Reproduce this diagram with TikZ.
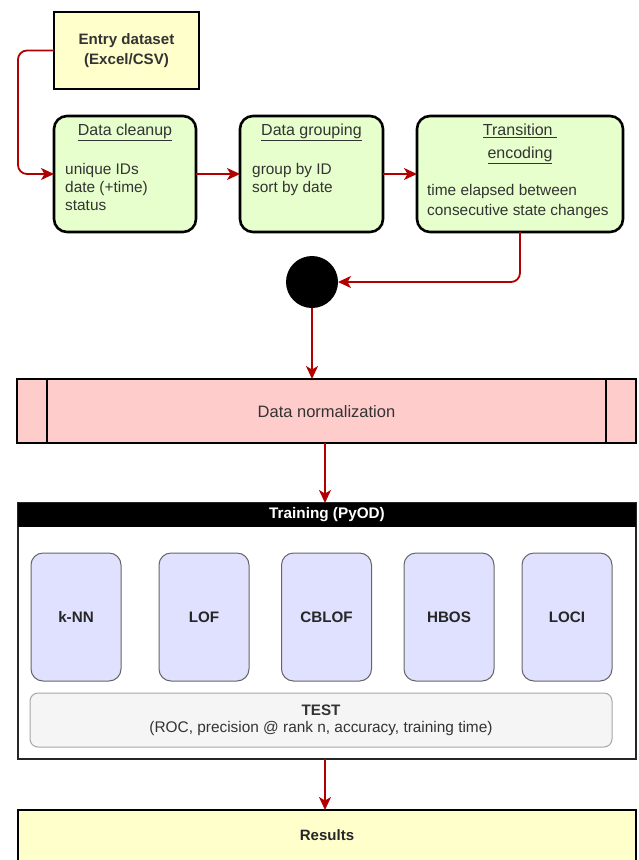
\documentclass[tikz,border=0pt]{standalone}
\usepackage{fontspec}
\setmainfont{Liberation Sans}
\usetikzlibrary{arrows.meta,positioning,calc}

\definecolor{entryfill}{HTML}{FFFFCC}
\definecolor{stepfill}{HTML}{E6FFCC}
\definecolor{normfill}{HTML}{FFCCCC}
\definecolor{algofill}{HTML}{E0E0FF}
\definecolor{testfill}{HTML}{F5F5F5}
\definecolor{linkred}{HTML}{B20000}
\definecolor{txt}{HTML}{333333}

\tikzset{
  base/.style={inner sep=0pt, outer sep=0pt, anchor=center},
  entrybox/.style={base, draw=black, line width=2.6pt, fill=entryfill, minimum width=145pt, minimum height=77pt},
  stepbox/.style={base, draw=black, line width=2.6pt, fill=stepfill, rounded corners=13pt, minimum height=116pt},
  normbox/.style={base, draw=black, line width=2pt, fill=normfill, minimum width=619pt, minimum height=64pt},
  trainbox/.style={base, draw=black!85, line width=1.2pt, fill=white, minimum width=618pt, minimum height=256pt},
  headbar/.style={base, fill=black, minimum width=618pt, minimum height=24pt, text=white, font=\fontsize{15.3}{17}\selectfont\bfseries},
  algobox/.style={base, draw=black!60, line width=1pt, fill=algofill, rounded corners=12pt, minimum width=90pt, minimum height=128pt, font=\fontsize{15.2}{17}\selectfont\bfseries, text=black!85},
  testbox/.style={base, draw=black!35, line width=1pt, fill=testfill, rounded corners=8pt, minimum width=582pt, minimum height=54pt},
  resultbox/.style={base, draw=black, line width=2.6pt, fill=entryfill, minimum width=618pt, minimum height=60pt},
  dot/.style={base, circle, fill=black, minimum size=52pt},
  label/.style={inner sep=0pt, text=txt, font=\fontsize{15.4}{18}\selectfont},
  title/.style={label, font=\fontsize{16}{18}\selectfont},
  conn/.style={draw=linkred, line width=1.8pt, rounded corners=9pt, -{Stealth[length=13pt, width=12pt, inset=3.5pt]}},
}

\begin{document}
\begin{tikzpicture}[x=1pt, y=-1pt]
\useasboundingbox (0,0) rectangle (638,860);

% input file
\node[entrybox] (entry) at (126.5,50.5) {};
\node[label, font=\fontsize{15.1}{20}\selectfont\bfseries, align=center] (entrytxt) at (entry.center) {Entry dataset\\(Excel/CSV)};

% preprocessing steps
\node[stepbox, minimum width=142pt] (clean) at (125,174) {};
\node[title] (cleantitle) at (125,132.5) {\underline{Data cleanup}};
\node[label, align=left, anchor=north west] (cleantxt) at (65,163) {unique IDs\\date (+time)\\status};

\node[stepbox, minimum width=143pt] (group) at (311.5,174) {};
\node[title] (grouptitle) at (311.5,132.5) {\underline{Data grouping}};
\node[label, align=left, anchor=north west] (grouptxt) at (252,163) {group by ID\\sort by date};

\node[stepbox, minimum width=206pt] (trans) at (520,174) {};
\node[title, align=center, font=\fontsize{16}{23}\selectfont] (transtitle) at (520,144) {\underline{Transition\ }\\\underline{encoding}};
\node[label, align=left, anchor=north west, font=\fontsize{15.4}{20}\selectfont] (transtxt) at (427,184.5) {time elapsed between\\consecutive state changes};

% join point
\node[dot] (join) at (312,282) {};

% normalization (subprocess)
\node[normbox] (norm) at (326.5,411) {};
\draw[line width=2pt] (47,379) -- (47,443);
\draw[line width=2pt] (606,379) -- (606,443);
\node[label, font=\fontsize{16.5}{18}\selectfont] (normtxt) at (326.5,412) {Data normalization};

% training container
\node[trainbox] (train) at (327,631) {};
\node[headbar] (head) at (327,515) {Training (PyOD)};
\node[algobox] (knn) at (76,617) {k-NN};
\node[algobox] (lof) at (204,617) {LOF};
\node[algobox] (cblof) at (326.5,617) {CBLOF};
\node[algobox] (hbos) at (449,617) {HBOS};
\node[algobox] (loci) at (567,617) {LOCI};
\node[testbox] (test) at (321,720) {};
\node[label, font=\fontsize{15.2}{18}\selectfont\bfseries] (testtitle) at (321,710) {TEST};
\node[label] (testtxt) at (321,729) {(ROC, precision @ rank n, accuracy, training time)};

% output
\node[resultbox] (res) at (327,840) {};
\node[label, font=\fontsize{15}{18}\selectfont\bfseries, text=black!85] (restxt) at (327,835) {Results};

% connectors
\coordinate (lane) at (325,0);
\draw[conn] (entry.west) -- ++(-36,0) |- (clean.west);
\draw[conn] (clean.east) -- (group.west);
\draw[conn] (group.east) -- (trans.west);
\draw[conn] (trans.south) |- (join.east);
\draw[conn] (join.south) -- (join.south |- norm.north);
\draw[conn] (norm.south -| lane) -- (train.north -| lane);
\draw[conn] (train.south -| lane) -- (res.north -| lane);
\end{tikzpicture}
\end{document}
